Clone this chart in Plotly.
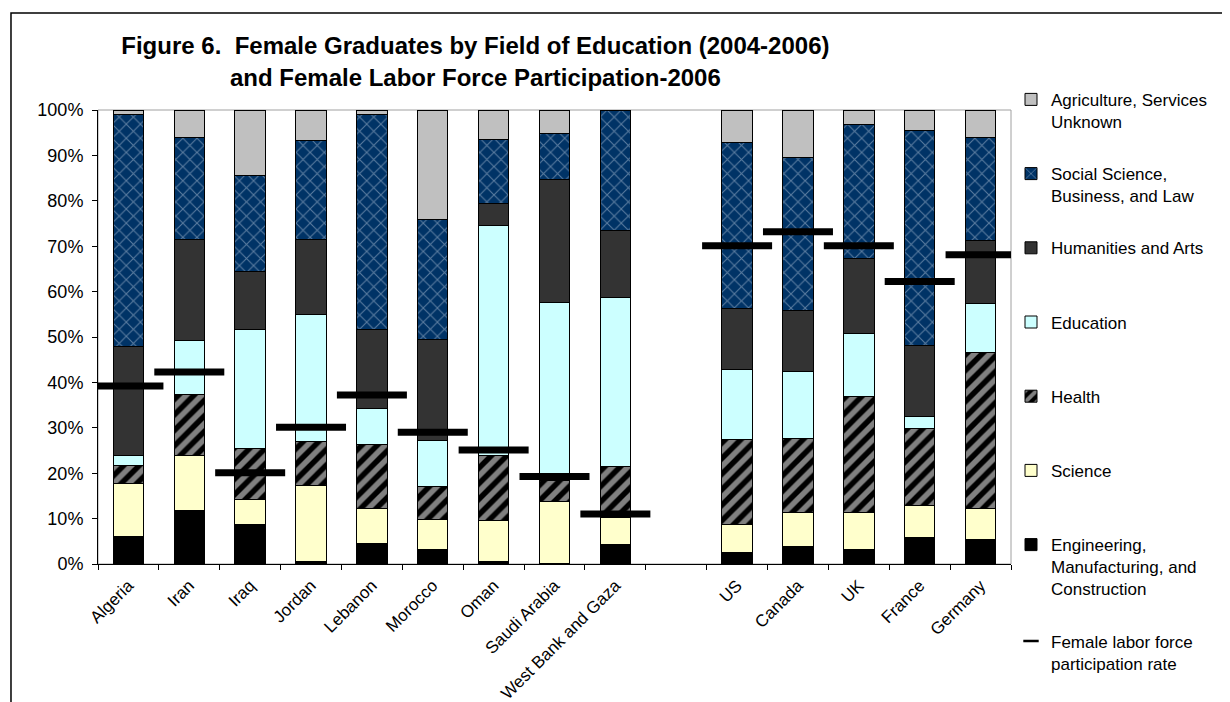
# Female graduates by field of education, stacked bars + labour force markers

import plotly.graph_objects as go

countries = ['Algeria', 'Iran', 'Iraq', 'Jordan', 'Lebanon', 'Morocco', 'Oman',
             'Saudi Arabia', 'West Bank and Gaza', ' ', 'US', 'Canada', 'UK',
             'France', 'Germany']

# shares in percent, one value per country (None for the spacer slot)
engineering = [6.0, 11.8, 8.7, 0.5, 4.6, 3.2, 0.5, 0.2, 4.2, None, 2.5, 3.9, 3.2, 5.9, 5.3]
science = [11.8, 12.0, 5.5, 16.8, 7.7, 6.7, 9.1, 13.6, 6.1, None, 6.1, 7.5, 8.1, 6.9, 7.0]
health = [4.0, 13.6, 11.3, 9.7, 14.1, 7.2, 14.3, 4.7, 11.2, None, 18.8, 16.3, 25.5, 17.0, 34.2]
education = [2.0, 11.9, 26.1, 27.9, 7.8, 10.1, 50.7, 39.2, 37.1, None, 15.4, 14.6, 13.9, 2.7, 10.9]
humanities = [24.1, 22.2, 12.9, 16.6, 17.4, 22.2, 4.8, 27.0, 14.9, None, 13.5, 13.5, 16.7, 15.7, 13.8]
social = [51.0, 22.5, 21.1, 21.7, 47.3, 26.5, 14.1, 10.2, 26.3, None, 36.6, 33.8, 29.5, 47.2, 22.8]
agriculture = [1.1, 6.0, 14.4, 6.8, 1.1, 24.1, 6.5, 5.1, 0.2, None, 7.1, 10.4, 3.1, 4.6, 6.0]

labor_rate = [39.2, 42.3, 20.1, 30.1, 37.2, 29.0, 25.1, 19.3, 11.0, None, 70.1, 73.2, 70.1, 62.2, 68.1]

FONT = 'Liberation Sans, Arial, sans-serif'

fig = go.Figure()

series = [
    ('Engineering,<br>Manufacturing, and<br>Construction', engineering, '#000000', None),
    ('Science<br> ', science, '#FFFFCC', None),
    ('Health<br> ', health, '#000000', {'shape': '/', 'fgcolor': '#FFFFFF', 'size': 11, 'solidity': 0.5}),
    ('Education<br> ', education, '#CCFFFF', None),
    ('Humanities and Arts<br> ', humanities, '#333333', None),
    ('Social Science,<br>Business, and Law', social, '#003366',
     {'shape': 'x', 'fgcolor': '#B4C4D8', 'size': 10, 'solidity': 0.2}),
    ('Agriculture, Services<br>Unknown', agriculture, '#C0C0C0', None),
]

# bottom segment first; legend lists them top segment first
for i, (name, vals, color, pattern) in enumerate(series):
    marker = {'color': color, 'line': {'color': 'black', 'width': 1}}
    if pattern:
        marker['pattern'] = pattern
    fig.add_trace(go.Bar(x=countries, y=vals, name=name, marker=marker,
                         legendgroup='g%d' % i, legendrank=100 - i))

fig.add_trace(go.Scatter(
    x=countries, y=labor_rate, mode='markers', showlegend=False, legendgroup='labor',
    marker={'symbol': 'line-ew', 'size': 50, 'color': 'black',
            'line': {'color': 'black', 'width': 7}}))
# small dash for the legend entry only
fig.add_trace(go.Scatter(
    x=[None], y=[None], mode='markers', name='Female labor force<br>participation rate',
    legendgroup='labor', legendrank=200,
    marker={'symbol': 'line-ew', 'size': 11, 'color': 'black',
            'line': {'color': 'black', 'width': 2.5}}))

# the page is offset by the 8px body margin, margins below allow for that
fig.update_layout(
    width=1230, height=702,
    barmode='stack', bargap=0.5,
    paper_bgcolor='white', plot_bgcolor='white',
    font={'family': FONT, 'size': 17, 'color': 'black'},
    margin={'l': 90, 'r': 227, 't': 102, 'b': 146},
    title={'text': '<b>Figure 6.  Female Graduates by Field of Education (2004-2006)<br>'
                   'and Female Labor Force Participation-2006</b>',
           'x': 0.380, 'xanchor': 'center', 'y': 0.934, 'yanchor': 'middle',
           'font': {'family': FONT, 'size': 24, 'color': 'black'}},
    legend={'x': 1.0, 'xanchor': 'left', 'y': 1.062, 'yanchor': 'top',
            'traceorder': 'grouped', 'tracegroupgap': 27, 'valign': 'top',
            'maxheight': 700,
            'font': {'family': FONT, 'size': 17}, 'bgcolor': 'rgba(0,0,0,0)'},
    xaxis={'type': 'category', 'categoryorder': 'array', 'categoryarray': countries,
           'range': [-0.5, len(countries) - 0.5],
           'tickangle': -45, 'showline': True, 'linecolor': 'black', 'linewidth': 1,
           'ticks': 'outside', 'tickson': 'boundaries', 'ticklen': 5, 'tickcolor': 'black',
           'showgrid': False, 'tickfont': {'size': 17}, 'automargin': False,
           'ticklabelstandoff': 4},
    yaxis={'range': [0, 100], 'dtick': 10, 'ticksuffix': '%', 'showline': True,
           'linecolor': 'black', 'linewidth': 1, 'ticks': 'outside', 'ticklen': 5,
           'tickcolor': 'black', 'showgrid': False, 'zeroline': False,
           'tickfont': {'size': 18}, 'automargin': False, 'ticklabelstandoff': 5},
    shapes=[
        # grey plot-area frame
        {'type': 'rect', 'xref': 'paper', 'yref': 'paper', 'x0': 0, 'x1': 1, 'y0': 0, 'y1': 1,
         'line': {'color': '#A0A0A0', 'width': 1}, 'layer': 'below'},
        # outer chart border
        {'type': 'rect', 'xref': 'paper', 'yref': 'paper', 'x0': -0.0953, 'x1': 1.26,
         'y0': -0.33, 'y1': 1.2137, 'line': {'color': 'black', 'width': 1.5}},
    ],
)

fig.write_html('out.html')
